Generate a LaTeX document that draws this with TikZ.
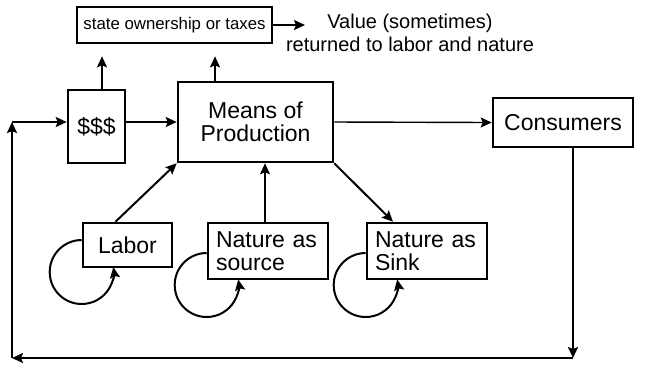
\documentclass[tikz,border=0pt]{standalone}
\usepackage{fontspec}
\setmainfont{Liberation Sans}
\usetikzlibrary{arrows.meta}
\begin{document}
\begin{tikzpicture}[x=0.5pt, y=-0.5pt,
  box/.style={draw, line width=1.3pt, inner sep=2pt,
    font=\fontsize{11.5}{11.5}\selectfont},
  natbox/.style={box, text width=52pt, inner xsep=4pt,
    minimum height=28pt, align=left},
  arr/.style={-{Stealth[length=5.5pt, width=5pt, inset=1pt]}, line width=1pt},
  thin/.style={arr, line width=0.7pt}
]
  \useasboundingbox (0,0) rectangle (647,366);

  % boxes
  \node[box, minimum width=97.5pt, minimum height=18pt,
    font=\fontsize{8.4}{10}\selectfont] (state) at (174.5,25) {state ownership or taxes};
  \node[align=center, font=\fontsize{10}{11.5}\selectfont] (value) at (410,33)
    {Value (sometimes)\\returned to labor and nature};
  \node[box, minimum width=28.5pt, minimum height=36.5pt] (cash) at (96.5,126.5) {\$\$\$};
  \node[box, minimum width=77.5pt, minimum height=40pt, align=center] (means)
    at (255.5,122) {Means of\\Production};
  \node[box, minimum width=70pt, minimum height=24.5pt] (cons) at (563,122.5) {Consumers};
  \node[box, minimum width=44.5pt, minimum height=22pt] (labor) at (127.5,245) {Labor};
  \node[natbox] (source) at (268,251) {Nature as\\source};
  \node[natbox] (sink) at (427,251) {Nature as\\Sink};

  % corners of the return loop
  \coordinate (vtip) at (305,25);
  \coordinate (br) at (573,358);
  \coordinate (bl) at (12,358);
  \coordinate (tl) at (12,122);

  \draw[arr] (state.east) -- (vtip);
  \draw[arr, shorten >=6pt] ([xshift=2.75pt]cash.north) -- ([xshift=2.75pt]cash.north |- state.south);
  \draw[arr, shorten >=6pt] ([xshift=-20.25pt]means.north) -- ([xshift=-20.25pt]means.north |- state.south);
  \draw[thin] (cash.east |- means) -- (means.west);
  \draw[thin] (means.east) -- (cons.west);

  \draw[arr] ([xshift=5pt]cons.south) -- (br);
  \draw[arr] (br) -- (bl);
  \draw[arr] (bl) -- (tl);
  \draw[arr] (tl) -- (cash.west |- tl);

  \draw[arr] ([xshift=-6pt]labor.north) -- (means.south west);
  \draw[arr] ([xshift=-1.5pt]source.north) -- ([xshift=-1.5pt]source.north |- means.south);
  \draw[arr] (means.south east) -- ([xshift=-17pt]sink.north);

  % self loops
  \draw[arr] ([yshift=2.5pt]labor.west) arc[start angle=90, end angle=369, radius=16pt];
  \draw[arr] ([yshift=-1pt]source.west) arc[start angle=90, end angle=370, radius=16pt];
  \draw[arr] ([yshift=-1pt]sink.west) arc[start angle=90, end angle=370, radius=16pt];
\end{tikzpicture}
\end{document}
